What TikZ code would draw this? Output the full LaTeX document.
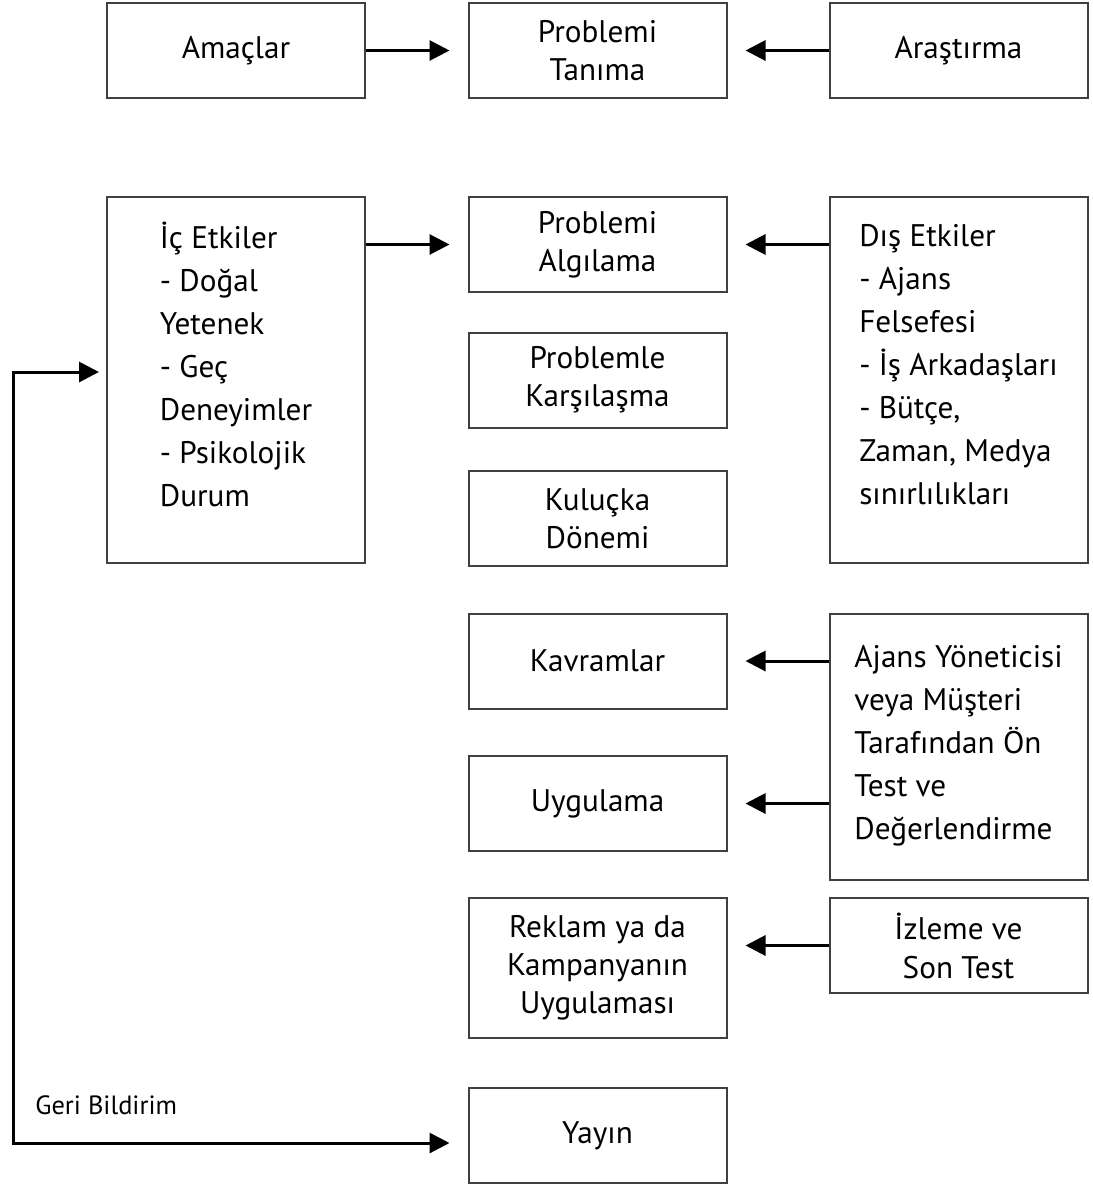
\documentclass[tikz,border=0pt]{standalone}
\usepackage{fontspec}
\setmainfont{PT Sans}
\usetikzlibrary{arrows.meta}
\begin{document}
\begin{tikzpicture}[x=.5pt, y=-.5pt, >={Triangle[length=10pt,width=10pt]},
 box/.style={draw=black!75, line width=1pt, minimum width=129pt, minimum height=47.5pt, inner sep=0pt, align=center, font=\fontsize{15.6}{19}\selectfont},
 side/.style={box, align=left, font=\fontsize{15.6}{21.5}\selectfont},
 arr/.style={->, line width=1.5pt, shorten >=9pt}]
 \useasboundingbox (0,0) rectangle (1093,1185);
 % top row
 \node[box] (amac) at (236,50.5) {Amaçlar};
 \node[box] (tanima) at (597.5,50.5) {Problemi\\Tanıma};
 \node[box] (arastirma) at (958.5,50.5) {Araştırma};
 % influences
 \node[side, minimum height=183pt, text depth=16pt] (ic) at (236,380) {İç Etkiler\\- Doğal\\Yetenek\\- Geç\\Deneyimler\\- Psikolojik\\Durum};
 \node[side, minimum height=183pt, text depth=16pt] (dis) at (958.5,380) {Dış Etkiler\\- Ajans\\Felsefesi\\- İş Arkadaşları\\- Bütçe,\\Zaman, Medya\\sınırlılıkları};
 % process
 \node[box] (algi) at (597.5,244.5) {Problemi\\Algılama};
 \node[box] (karsi) at (597.5,380) {Problemle\\Karşılaşma};
 \node[box] (kulucka) at (597.5,518.5) {Kuluçka\\Dönemi};
 \node[box] (kavram) at (597.5,661) {Kavramlar};
 \node[box] (uygula) at (597.5,803.5) {Uygulama};
 \node[box, minimum height=70pt] (reklam) at (597.5,968) {Reklam ya da\\Kampanyanın\\Uygulaması};
 \node[box] (yayin) at (597.5,1135.5) {Yayın};
 \node[side, minimum height=133pt, text depth=5pt] (ajans) at (958.5,747) {Ajans Yöneticisi\\veya Müşteri\\Tarafından Ön\\Test ve\\Değerlendirme};
 \node[box, font=\fontsize{15.6}{19.5}\selectfont] (izleme) at (958.5,945.5) {İzleme ve\\Son Test};
 \node[anchor=base west, inner sep=0pt, font=\fontsize{13.2}{15}\selectfont] (geri) at (35,1114) {Geri Bildirim};
 % arrows
 \draw[arr](amac)--(tanima);
 \draw[arr](arastirma)--(tanima);
 \draw[arr](ic.east |- algi)--(algi);
 \draw[arr](dis.west |- algi)--(algi);
 \draw[arr](ajans.west |- kavram)--(kavram);
 \draw[arr](ajans.west |- uygula)--(uygula);
 \draw[arr](izleme)--(izleme -| reklam.east);
 \coordinate (fbtop) at (13,372);
 \coordinate (fbbot) at (13,1143);
 \draw[arr, <->, shorten <=3.5pt](fbtop -| ic.west)--(fbtop)--(fbbot)--(fbbot -| yayin.west);
\end{tikzpicture}
\end{document}
